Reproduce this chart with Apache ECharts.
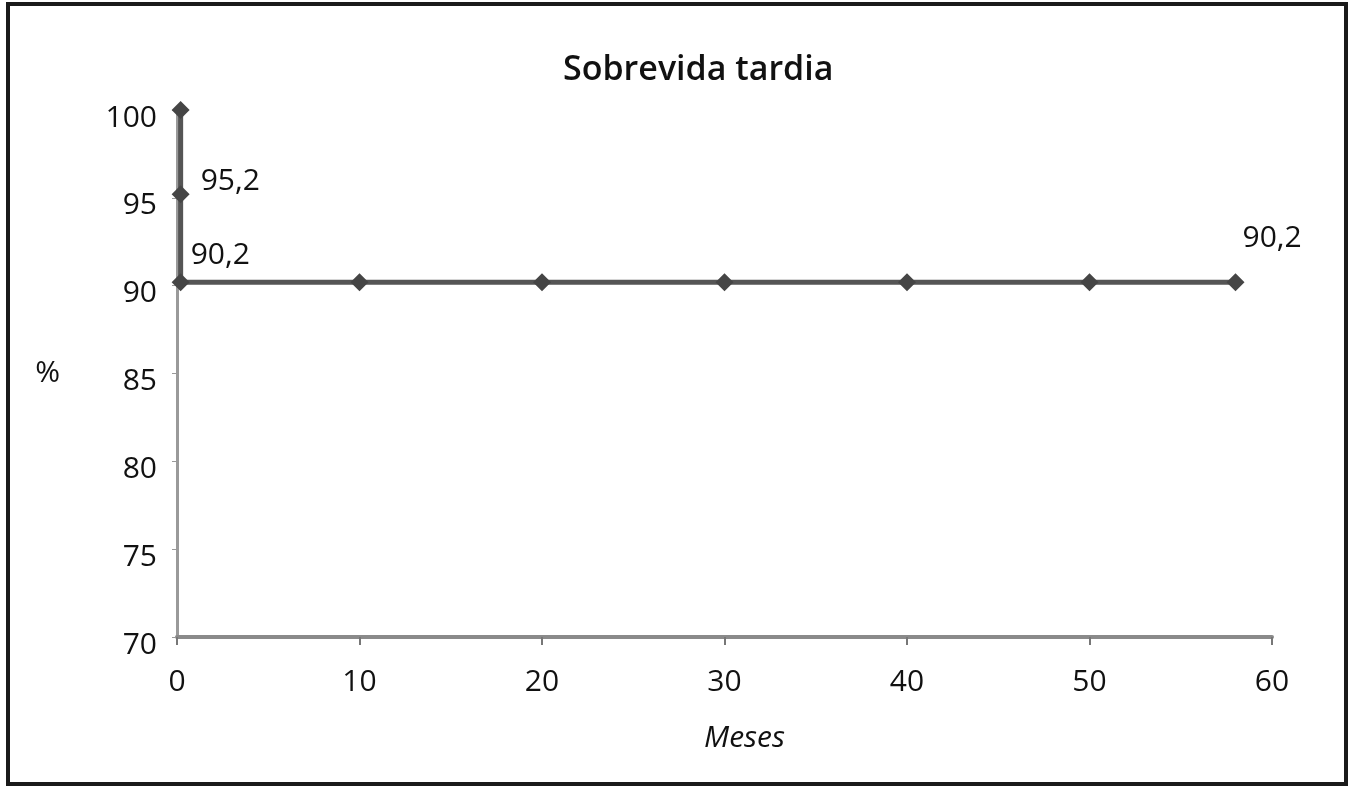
<!DOCTYPE html>
<html><head><meta charset="utf-8">
<script src="https://cdn.jsdelivr.net/npm/echarts@6/dist/echarts.min.js"></script>
<style>
html,body{margin:0;padding:0;background:#fff;}
#frame{position:absolute;left:6px;top:2px;width:1334px;height:776px;border:4px solid #1a1a1a;}
#c{position:absolute;left:0;top:0;width:1349px;height:789px;}
</style></head>
<body><div id="frame"></div><div id="c"></div>
<script>
const title = "Sobrevida tardia";
const months = [0.2, 0.2, 0.2, 10, 20, 30, 40, 50, 58];
const survival = [100, 95.2, 90.2, 90.2, 90.2, 90.2, 90.2, 90.2, 90.2];
const pointLabels = [null, "95,2", "90,2", null, null, null, null, null, "90,2"];
const xTicks = [0, 10, 20, 30, 40, 50, 60];
const yTicks = [70, 75, 80, 85, 90, 95, 100];

const labelOffsets = {1: [6, -13], 2: [-4, -27], 8: [-7, -44]};
const font = "'Open Sans', 'DejaVu Sans', sans-serif";
const data = months.map((m, i) => {
  const d = {value: [m, survival[i]]};
  if (pointLabels[i]) {
    d.label = {show: true, formatter: pointLabels[i], position: 'right', offset: labelOffsets[i] || [0,0]};
  }
  return d;
});
const chart = echarts.init(document.getElementById('c'));
chart.setOption({
  animation: false,
  backgroundColor: 'transparent',
  title: {text: title, left: 558, top: 48, textStyle: {fontFamily: font, fontSize: 34, fontWeight: 600, color: '#111'}},
  grid: {left: 177, right: 77, top: 110, bottom: 152},
  xAxis: {
    type: 'value', min: xTicks[0], max: xTicks[xTicks.length-1], interval: 10,
    name: 'Meses', nameLocation: 'middle', nameGap: 86,
    nameTextStyle: {fontFamily: font, fontSize: 30, fontStyle: 'italic', color: '#111', padding: [0, 0, 0, 40]},
    axisLine: {show: true, lineStyle: {color: '#8a8a8a', width: 4}},
    axisTick: {show: true, length: 8, lineStyle: {color: '#777', width: 2}},
    axisLabel: {fontFamily: font, fontSize: 30, color: '#111', margin: 30},
    splitLine: {show: false}
  },
  yAxis: {
    type: 'value', min: yTicks[0], max: yTicks[yTicks.length-1], interval: 5,
    name: '%', nameLocation: 'middle', nameGap: 117, nameRotate: 0,
    nameTextStyle: {fontFamily: font, fontSize: 30, color: '#111', padding: [20, 0, 0, 0]},
    axisLine: {show: true, lineStyle: {color: '#9a9a9a', width: 3}},
    axisTick: {show: true, length: 5, lineStyle: {color: '#999', width: 1}},
    axisLabel: {fontFamily: font, fontSize: 30, color: '#111', margin: 20, verticalAlign: 'top', lineHeight: 16},
    splitLine: {show: false}
  },
  series: [{
    type: 'line', data: data,
    symbol: 'diamond', symbolSize: 18,
    lineStyle: {color: '#555', width: 5},
    itemStyle: {color: '#454545'},
    label: {show: false, fontFamily: font, fontSize: 30, color: '#111'}
  }]
});
</script></body></html>
